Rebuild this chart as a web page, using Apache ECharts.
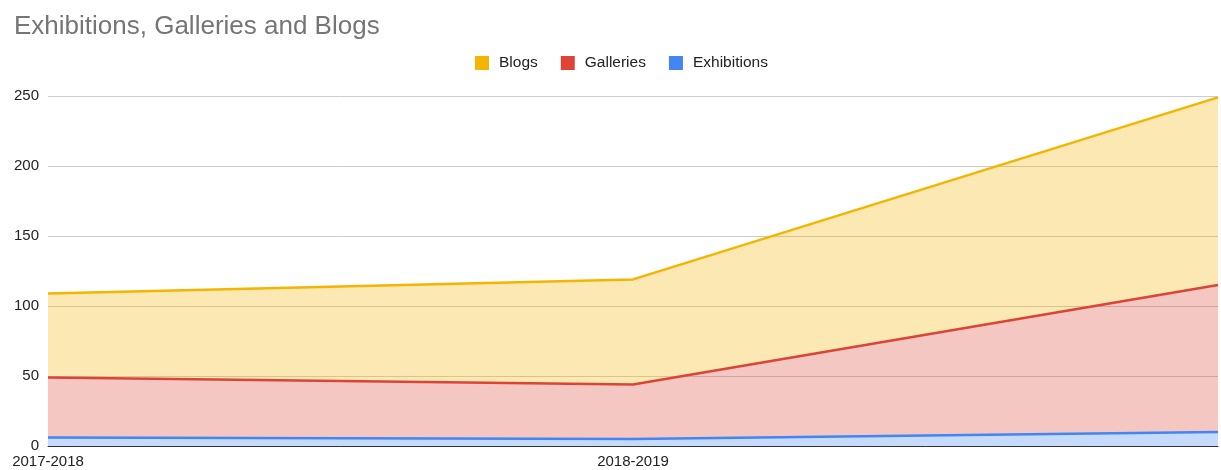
<!DOCTYPE html>
<html>
<head>
<meta charset="utf-8">
<script src="https://cdn.jsdelivr.net/npm/echarts@6/dist/echarts.min.js"></script>
<style>
  html, body { margin: 0; padding: 0; background: #fff; }
  #chart { width: 1221px; height: 470px; }
</style>
</head>
<body>
<div id="chart"></div>
<script>
const years = ['2017-2018', '2018-2019', '2019-2020']
const exhibitions = [6, 5, 10]
const galleries = [43, 39, 105]
const blogs = [60, 75, 134]
const yTicks = [0, 50, 100, 150, 200, 250]

const FONT = 'Arial, "Liberation Sans", sans-serif'
const chart = echarts.init(document.getElementById('chart'))

function areaSeries(name, data, color) {
  return {
    name,
    type: 'line',
    stack: 'total',
    data,
    symbol: 'none',
    lineStyle: { color, width: 2.5 },
    itemStyle: { color },
    areaStyle: { color, opacity: 0.3 },
  }
}

chart.setOption({
  animation: false,
  title: {
    text: 'Exhibitions, Galleries and Blogs',
    left: 9,
    top: 9,
    textStyle: { fontFamily: FONT, fontSize: 26, fontWeight: 'normal', color: '#757575' },
  },
  legend: {
    data: ['Blogs', 'Galleries', 'Exhibitions'],
    top: 50,
    left: 470,
    icon: 'rect',
    itemWidth: 14,
    itemHeight: 14,
    itemGap: 23,
    textStyle: { fontFamily: FONT, fontSize: 15.5, color: '#222', padding: [0, 0, 0, 5] },
  },
  grid: { left: 48, right: 3, top: 96, bottom: 24 },
  xAxis: {
    type: 'category',
    data: years,
    boundaryGap: false,
    axisTick: { show: false },
    axisLine: { lineStyle: { color: '#333', width: 1 } },
    axisLabel: {
      interval: (i) => i < 2,
      margin: 8,
      fontFamily: FONT,
      fontSize: 15,
      color: '#222',
    },
  },
  yAxis: {
    type: 'value',
    min: yTicks[0],
    max: yTicks[yTicks.length - 1],
    interval: 50,
    axisLine: { show: false },
    axisTick: { show: false },
    splitLine: { lineStyle: { color: '#cccccc' } },
    axisLabel: { margin: 9, fontFamily: FONT, fontSize: 15, color: '#222' },
  },
  series: [
    areaSeries('Exhibitions', exhibitions, '#4285f4'),
    areaSeries('Galleries', galleries, '#db4437'),
    areaSeries('Blogs', blogs, '#f4b400'),
  ],
})
</script>
</body>
</html>
